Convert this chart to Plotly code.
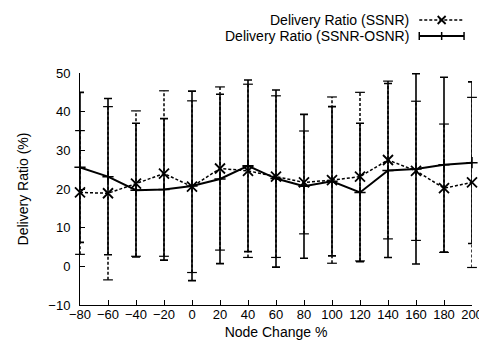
import plotly.graph_objects as go

node_change = [-80, -60, -40, -20, 0, 20, 40, 60, 80, 100, 120, 140, 160, 180, 200]
ssnr = [19.1, 18.9, 21.4, 24.0, 20.6, 25.3, 24.7, 23.2, 21.7, 22.3, 23.2, 27.5, 24.7, 20.2, 21.7]
ssnr_err = [16.0, 22.4, 18.8, 21.4, 22.2, 21.1, 22.4, 20.9, 13.3, 21.5, 21.8, 20.4, 18.0, 16.6, 22.0]
osnr = [25.6, 23.2, 19.7, 19.9, 20.8, 22.6, 26.0, 22.7, 20.7, 22.0, 19.1, 24.8, 25.2, 26.3, 26.8]
osnr_err = [19.4, 20.2, 17.3, 18.3, 24.5, 21.9, 22.2, 22.9, 18.6, 19.3, 17.9, 22.5, 24.6, 22.6, 20.9]
x_ticks = list(range(-80, 201, 20))
y_ticks = list(range(-10, 51, 10))

FONT = "Liberation Sans, Arial, sans-serif"
W, H = 487, 345
L, R, T, B = 72, 21, 65, 48
PW, PH = W - L - R, H - T - B

def px(x):
    return (x - L) / PW

def py(y):
    return (H - B - y) / PH

fig = go.Figure()

# SSNR dashed error bars
ex, ey = [], []
for xv, yv, e in zip(node_change, ssnr, ssnr_err):
    ex += [xv, xv, None]
    ey += [yv - e, yv + e, None]
fig.add_trace(go.Scatter(x=ex, y=ey, mode="lines", line=dict(color="black", width=1.5, dash="3px,2px"),
                         hoverinfo="skip", showlegend=False, cliponaxis=False))
cx = node_change + node_change
cy = [y - e for y, e in zip(ssnr, ssnr_err)] + [y + e for y, e in zip(ssnr, ssnr_err)]
fig.add_trace(go.Scatter(x=cx, y=cy, mode="markers",
                         marker=dict(symbol="line-ew", size=7, line=dict(color="black", width=1.2)),
                         hoverinfo="skip", showlegend=False, cliponaxis=False))
# SSNR line
fig.add_trace(go.Scatter(x=node_change, y=ssnr, mode="lines+markers", name="Delivery Ratio (SSNR)",
                         line=dict(color="black", width=1.5, dash="3px,2px"),
                         marker=dict(symbol="x-thin", size=10, line=dict(color="black", width=1.8)),
                         showlegend=False, cliponaxis=False))
# SSNR-OSNR solid with error bars
fig.add_trace(go.Scatter(x=node_change, y=osnr, mode="lines+markers", name="Delivery Ratio (SSNR-OSNR)",
                         line=dict(color="black", width=2),
                         marker=dict(symbol="cross-thin", size=8, line=dict(color="black", width=1.5)),
                         error_y=dict(type="data", array=osnr_err, visible=True, color="black",
                                      thickness=1.6, width=4),
                         showlegend=False, cliponaxis=False))

shapes = []
annotations = []
# legend (manual: text left, sample right)
rows = [(12, "Delivery Ratio (SSNR)", "dash"), (28, "Delivery Ratio (SSNR-OSNR)", "solid")]
for yy, txt, style in rows:
    annotations.append(dict(x=px(405), y=py(yy), xref="paper", yref="paper", text=txt, showarrow=False,
                            xanchor="right", yanchor="middle", font=dict(family=FONT, size=14, color="black")))
    if style == "dash":
        shapes.append(dict(type="line", xref="paper", yref="paper", x0=px(413), x1=px(458), y0=py(yy), y1=py(yy),
                           line=dict(color="black", width=1.5, dash="3px,2px")))
        for d in (-1, 1):
            shapes.append(dict(type="line", xref="paper", yref="paper", x0=px(435.5 - 4), x1=px(435.5 + 4),
                               y0=py(yy - 4 * d), y1=py(yy + 4 * d), line=dict(color="black", width=1.8)))
    else:
        shapes.append(dict(type="line", xref="paper", yref="paper", x0=px(413), x1=px(458), y0=py(yy), y1=py(yy),
                           line=dict(color="black", width=2)))
        for xx in (413, 435.5, 458):
            shapes.append(dict(type="line", xref="paper", yref="paper", x0=px(xx), x1=px(xx),
                               y0=py(yy - 4), y1=py(yy + 4), line=dict(color="black", width=1.5)))

fig.update_layout(
    width=W, height=H, margin=dict(l=L, r=R, t=T, b=B),
    paper_bgcolor="white", plot_bgcolor="white",
    font=dict(family=FONT, size=14, color="black"),
    shapes=shapes, annotations=annotations, showlegend=False,
    xaxis=dict(range=[-80, 200], tickvals=x_ticks, ticks="inside", ticklen=5, tickcolor="black",
               showline=True, linecolor="black", linewidth=1, showgrid=False, zeroline=False,
               ticklabelstandoff=-3,
               title=dict(text="Node Change %", font=dict(family=FONT, size=14), standoff=6),
               tickfont=dict(family=FONT, size=13)),
    yaxis=dict(range=[-10, 50], tickvals=y_ticks, ticks="inside", ticklen=5, tickcolor="black",
               showline=True, linecolor="black", linewidth=1, showgrid=False, zeroline=False,
               ticklabelstandoff=6,
               title=dict(text="Delivery Ratio (%)", font=dict(family=FONT, size=14), standoff=16),
               tickfont=dict(family=FONT, size=13)),
)

fig.write_html("out.html")
